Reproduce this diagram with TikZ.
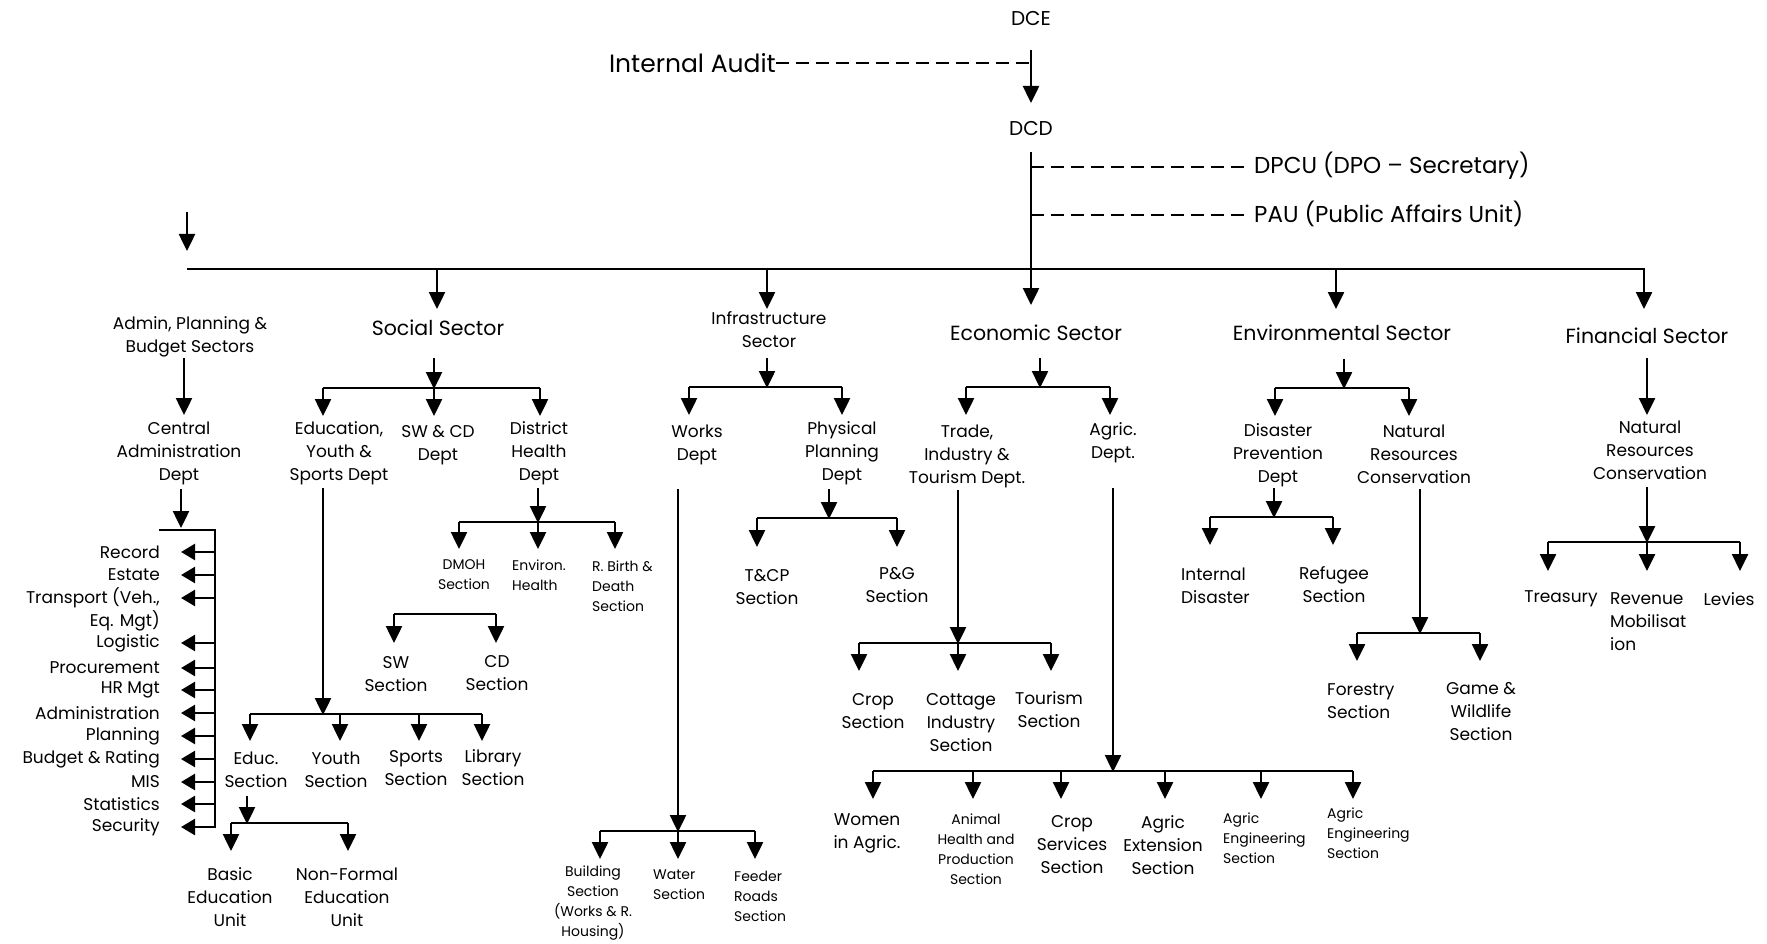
\documentclass[tikz,border=0pt]{standalone}
\usepackage{fontspec}
\setmainfont{Poppins}
\usetikzlibrary{arrows.meta}
\tikzset{
  t/.style={font=\fontsize{17}{23}\selectfont, align=center, inner sep=0pt},
  tl/.style={t, align=left, anchor=west},
  s/.style={font=\fontsize{14}{20}\selectfont, align=center, inner sep=0pt},
  sl/.style={s, align=left, anchor=west},
  b/.style={font=\fontsize{20.5}{25}\selectfont, align=center, inner sep=0pt},
  top/.style={font=\fontsize{20}{24}\selectfont, align=center, inner sep=0pt},
  big/.style={font=\fontsize{23}{27}\selectfont, align=center, inner sep=0pt},
  ln/.style={line width=2.5pt},
  arr/.style={line width=2.5pt, -{Triangle[length=17pt,width=16pt]}},
  larr/.style={line width=2.5pt, -{Triangle[length=14pt,width=16pt]}},
  dsh/.style={line width=1.6pt, dash pattern=on 13pt off 7pt},
}
\begin{document}
\begin{tikzpicture}[x=1pt,y=-1pt]
\useasboundingbox (0,0) rectangle (1767,944);
% top
\node[top] (dce) at (1031,19) {DCE};
\node[big, font=\fontsize{25}{29}\selectfont, anchor=east] (audit) at (776,63) {Internal Audit};
\node[top] (dcd) at (1031,129) {DCD};
\node[big, anchor=west] (dpcu) at (1254,166) {DPCU (DPO – Secretary)};
\node[big, anchor=west] (pau) at (1254,214) {PAU (Public Affairs Unit)};
\draw[dsh] (audit.east) -- (1031,63);
\draw[arr] (1031,50) -- (1031,103);
\draw[arr] (1031,152) -- (1031,305);
\draw[dsh] (1031,167) -- (1244,167);
\draw[dsh] (1031,215) -- (1244,215);
\draw[ln] (187,269) -- (1645,269);
\draw[arr] (187,212) -- (187,251);
\foreach \x in {437,767,1336,1644} \draw[arr] (\x,269) -- (\x,309);

% admin
\node[t] (admin) at (190,337) {Admin, Planning \&\\Budget Sectors};
\draw[arr] (184,358) -- (184,415);
\node[t] (central) at (179,453) {Central\\Administration\\Dept};
\draw[arr] (181,489) -- (181,528);
\draw[ln] (159,530) -- (215,530) -- (215,828);
\foreach \y/\n/\txt in {552/rec/Record, 575/est/Estate, 643/log/Logistic, 668/proc/Procurement, 690/hr/HR Mgt, 713/adm/Administration, 736/plan/Planning, 759/bud/Budget \& Rating, 782/mis/MIS, 804/stat/Statistics, 827/sec/Security}{
  \node[t, anchor=east] (\n) at (160,\y) {\txt};
  \draw[larr] (215,\y) -- (181,\y);
}
\node[t, anchor=east, align=right] (trans) at (160,609) {Transport (Veh.,\\Eq. Mgt)};
\draw[larr] (215,598) -- (181,598);

% social
\node[b] (social) at (438,328) {Social Sector};
\draw[arr] (434,358) -- (434,389);
\draw[ln] (323,388) -- (540,388);
\foreach \x in {323,434,540} \draw[arr] (\x,388) -- (\x,416);
\node[t] (edu) at (339,453) {Education,\\Youth \&\\Sports Dept};
\node[t] (swcd) at (438,445) {SW \& CD\\Dept};
\node[t] (dh) at (539,453) {District\\Health\\Dept};
\draw[arr] (538,488) -- (538,523);
\draw[ln] (459,522) -- (615,522);
\foreach \x in {459,538,615} \draw[arr] (\x,522) -- (\x,549);
\node[s] (dmoh) at (464,575) {DMOH\\Section};
\node[sl] (envh) at (512,575) {Environ.\\Health};
\node[sl] (rbirth) at (592,586) {R. Birth \&\\Death\\Section};
\draw[ln] (394,614) -- (496,614);
\foreach \x in {394,496} \draw[arr] (\x,614) -- (\x,643);
\node[t] (sw) at (396,674) {SW\\Section};
\node[t] (cd) at (497,673) {CD\\Section};
\draw[arr] (323,488) -- (323,715);
\draw[ln] (250,714) -- (482,714);
\foreach \x in {250,340,419,482} \draw[arr] (\x,714) -- (\x,741);
\node[t] (educ) at (256,770) {Educ.\\Section};
\node[t] (youth) at (336,770) {Youth\\Section};
\node[t] (sports) at (416,768) {Sports\\Section};
\node[t] (lib) at (493,768) {Library\\Section};
\draw[arr] (247,796) -- (247,824);
\draw[ln] (231,823) -- (348,823);
\foreach \x in {231,348} \draw[arr] (\x,823) -- (\x,851);
\node[t] (basic) at (230,897) {Basic\\Education\\Unit};
\node[t] (nonf) at (347,897) {Non-Formal\\Education\\Unit};

% infrastructure
\node[t] (infra) at (769,330) {Infrastructure\\Sector};
\draw[arr] (767,358) -- (767,388);
\draw[ln] (689,387) -- (842,387);
\foreach \x in {689,842} \draw[arr] (\x,387) -- (\x,415);
\node[t] (works) at (697,445) {Works\\Dept};
\node[t] (phys) at (842,453) {Physical\\Planning\\Dept};
\draw[arr] (829,489) -- (829,519);
\draw[ln] (757,518) -- (897,518);
\foreach \x in {757,897} \draw[arr] (\x,518) -- (\x,547);
\node[t] (tcp) at (767,587) {T\&CP\\Section};
\node[t] (pg) at (897,585) {P\&G\\Section};
\draw[arr] (678,489) -- (678,832);
\draw[ln] (600,831) -- (755,831);
\foreach \x in {600,678,755} \draw[arr] (\x,831) -- (\x,859);
\node[s] (build) at (593,903) {Building\\Section\\(Works \& R.\\Housing)};
\node[sl] (water) at (653,885) {Water\\Section};
\node[sl] (feeder) at (734,896) {Feeder\\Roads\\Section};

% economic
\node[b] (econ) at (1036,333) {Economic Sector};
\draw[arr] (1040,358) -- (1040,388);
\draw[ln] (966,387) -- (1110,387);
\foreach \x in {966,1110} \draw[arr] (\x,387) -- (\x,415);
\node[t] (trade) at (967,456) {Trade,\\Industry \&\\Tourism Dept.};
\node[t] (agric) at (1113,443) {Agric.\\Dept.};
\draw[arr] (958,490) -- (958,644);
\draw[ln] (859,643) -- (1051,643);
\foreach \x in {859,958,1051} \draw[arr] (\x,643) -- (\x,671);
\node[t] (crop) at (873,711) {Crop\\Section};
\node[t] (cottage) at (961,723) {Cottage\\Industry\\Section};
\node[t] (tour) at (1049,710) {Tourism\\Section};
\draw[arr] (1113,488) -- (1113,772);
\draw[ln] (873,771) -- (1353,771);
\foreach \x in {873,973,1061,1165,1261,1353} \draw[arr] (\x,771) -- (\x,799);
\node[t] (women) at (867,833) {Women\\in Agric.};
\node[s] (animal) at (976,849) {Animal\\Health and\\Production\\Section};
\node[t] (cropserv) at (1072,845) {Crop\\Services\\Section};
\node[t] (ext) at (1163,845) {Agric\\Extension\\Section};
\node[sl] (eng1) at (1223,838) {Agric\\Engineering\\Section};
\node[sl] (eng2) at (1327,833) {Agric\\Engineering\\Section};

% environmental
\node[b] (envs) at (1342,333) {Environmental Sector};
\draw[arr] (1344,359) -- (1344,389);
\draw[ln] (1275,388) -- (1409,388);
\foreach \x in {1275,1409} \draw[arr] (\x,388) -- (\x,416);
\node[t] (disaster) at (1278,455) {Disaster\\Prevention\\Dept};
\node[t] (natres) at (1414,454) {Natural\\Resources\\Conservation};
\draw[arr] (1274,488) -- (1274,518);
\draw[ln] (1210,517) -- (1333,517);
\foreach \x in {1210,1333} \draw[arr] (\x,517) -- (\x,545);
\node[tl] (intd) at (1181,586) {Internal\\Disaster};
\node[t] (refugee) at (1334,585) {Refugee\\Section};
\draw[arr] (1420,489) -- (1420,634);
\draw[ln] (1357,633) -- (1480,633);
\foreach \x in {1357,1480} \draw[arr] (\x,633) -- (\x,661);
\node[tl] (forestry) at (1327,701) {Forestry\\Section};
\node[t] (game) at (1481,712) {Game \&\\Wildlife\\Section};

% financial
\node[b] (fin) at (1647,336) {Financial Sector};
\draw[arr] (1647,358) -- (1647,415);
\node[t] (natres2) at (1650,450) {Natural\\Resources\\Conservation};
\draw[arr] (1647,487) -- (1647,543);
\draw[ln] (1548,542) -- (1740,542);
\foreach \x in {1548,1647,1740} \draw[arr] (\x,542) -- (\x,571);
\node[t] (treas) at (1561,599) {Treasury};
\node[tl] (rev) at (1610,622) {Revenue\\Mobilisat\\ion};
\node[t] (levies) at (1729,599) {Levies};
\end{tikzpicture}
\end{document}
